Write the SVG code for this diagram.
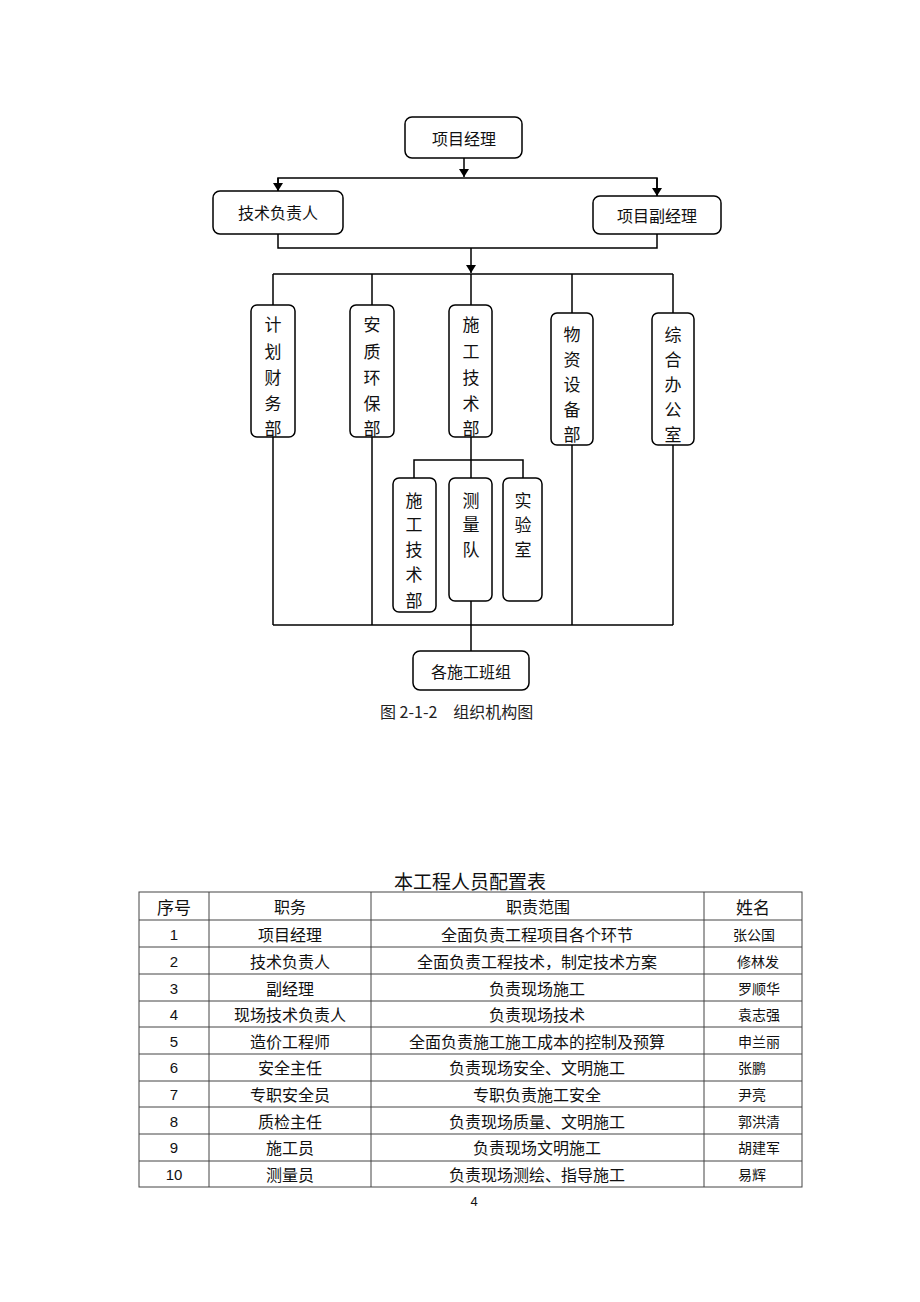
<svg xmlns="http://www.w3.org/2000/svg" width="920" height="1302" viewBox="0 0 920 1302">
<style>
.bx{fill:#fff;stroke:#000;stroke-width:1.5}
.ln{fill:none;stroke:#000;stroke-width:1.5}
.t{font-family:"Noto Sans CJK SC",sans-serif;font-size:16px;fill:#111;text-anchor:middle;dominant-baseline:central}
.v{font-family:"Noto Sans CJK SC",sans-serif;font-size:17px;fill:#111;text-anchor:middle;dominant-baseline:central}
.cap{font-family:"Noto Sans CJK SC",sans-serif;font-size:16px;fill:#222;dominant-baseline:central}
.tl{stroke:#444;stroke-width:1;fill:none}
.c{font-family:"Noto Sans CJK SC",sans-serif;font-size:16px;fill:#111;text-anchor:middle;dominant-baseline:central}
.n{font-family:"Liberation Sans",sans-serif;font-size:15px;fill:#111;text-anchor:middle;dominant-baseline:central}
.nm{font-family:"Noto Sans CJK SC",sans-serif;font-size:14px;fill:#111;dominant-baseline:central}
</style>
<defs>
<marker id="ar" markerWidth="8" markerHeight="10" refX="8" refY="5" orient="auto" markerUnits="userSpaceOnUse">
<path d="M0,0 L8,5 L0,10 Z" fill="#000"/>
</marker>
</defs>
<g id="connectors">
<line class="ln" x1="464" y1="158" x2="464" y2="177" marker-end="url(#ar)"/>
<polyline class="ln" points="278,191 278,178 657,178 657,196"/>
<line class="ln" x1="278" y1="178" x2="278" y2="191" marker-end="url(#ar)"/>
<line class="ln" x1="657" y1="178" x2="657" y2="196" marker-end="url(#ar)"/>
<polyline class="ln" points="278,234 278,248 657,248 657,234"/>
<line class="ln" x1="471" y1="248" x2="471" y2="273" marker-end="url(#ar)"/>
<line class="ln" x1="273" y1="274" x2="673" y2="274"/>
<line class="ln" x1="273" y1="274" x2="273" y2="305"/>
<line class="ln" x1="372" y1="274" x2="372" y2="305"/>
<line class="ln" x1="471" y1="274" x2="471" y2="305"/>
<line class="ln" x1="572" y1="274" x2="572" y2="313"/>
<line class="ln" x1="673" y1="274" x2="673" y2="313"/>
<line class="ln" x1="273" y1="437" x2="273" y2="625"/>
<line class="ln" x1="372" y1="437" x2="372" y2="625"/>
<line class="ln" x1="572" y1="445" x2="572" y2="625"/>
<line class="ln" x1="673" y1="445" x2="673" y2="625"/>
<line class="ln" x1="471" y1="437" x2="471" y2="478"/>
<polyline class="ln" points="414,478 414,460 523,460 523,478"/>
<line class="ln" x1="273" y1="625" x2="673" y2="625"/>
<line class="ln" x1="471" y1="601" x2="471" y2="651"/>
</g>
<g id="n-pm"><rect class="bx" x="405" y="117" width="117" height="41" rx="7"/><text class="t" x="464" y="138">项目经理</text></g>
<g id="n-tech"><rect class="bx" x="213" y="191" width="130" height="43" rx="7"/><text class="t" x="278" y="212">技术负责人</text></g>
<g id="n-dpm"><rect class="bx" x="593" y="196" width="128" height="38" rx="7"/><text class="t" x="657" y="215">项目副经理</text></g>
<g id="n-jh"><rect class="bx" x="251" y="305" width="44" height="132" rx="6"/>
<text class="v" x="273" y="323">计</text><text class="v" x="273" y="350">划</text><text class="v" x="273" y="376">财</text><text class="v" x="273" y="402">务</text><text class="v" x="273" y="427">部</text></g>
<g id="n-az"><rect class="bx" x="350" y="305" width="44" height="132" rx="6"/>
<text class="v" x="372" y="323">安</text><text class="v" x="372" y="350">质</text><text class="v" x="372" y="376">环</text><text class="v" x="372" y="402">保</text><text class="v" x="372" y="427">部</text></g>
<g id="n-sg"><rect class="bx" x="449" y="305" width="43" height="132" rx="6"/>
<text class="v" x="471" y="323">施</text><text class="v" x="471" y="350">工</text><text class="v" x="471" y="376">技</text><text class="v" x="471" y="402">术</text><text class="v" x="471" y="427">部</text></g>
<g id="n-wz"><rect class="bx" x="551" y="313" width="42" height="132" rx="6"/>
<text class="v" x="572" y="333">物</text><text class="v" x="572" y="358">资</text><text class="v" x="572" y="383">设</text><text class="v" x="572" y="408">备</text><text class="v" x="572" y="433">部</text></g>
<g id="n-zh"><rect class="bx" x="652" y="313" width="42" height="132" rx="6"/>
<text class="v" x="673" y="333">综</text><text class="v" x="673" y="358">合</text><text class="v" x="673" y="383">办</text><text class="v" x="673" y="408">公</text><text class="v" x="673" y="433">室</text></g>
<g id="n-sg2"><rect class="bx" x="393" y="478" width="43" height="134" rx="6"/>
<text class="v" x="414" y="499">施</text><text class="v" x="414" y="523">工</text><text class="v" x="414" y="548">技</text><text class="v" x="414" y="573">术</text><text class="v" x="414" y="599">部</text></g>
<g id="n-cl"><rect class="bx" x="449" y="478" width="43" height="123" rx="6"/>
<text class="v" x="471" y="499">测</text><text class="v" x="471" y="523">量</text><text class="v" x="471" y="548">队</text></g>
<g id="n-sy"><rect class="bx" x="503" y="478" width="39" height="123" rx="6"/>
<text class="v" x="523" y="499">实</text><text class="v" x="523" y="523">验</text><text class="v" x="523" y="548">室</text></g>
<g id="n-bz"><rect class="bx" x="413" y="651" width="116" height="39" rx="7"/><text class="t" x="471" y="671">各施工班组</text></g>
<text class="cap" x="380" y="711">图 2-1-2　组织机构图</text>

<g id="table">
<text class="c" x="470" y="880" style="font-size:19px">本工程人员配置表</text>
<rect class="tl" x="139" y="892" width="663" height="295"/>
<line class="tl" x1="209" y1="892" x2="209" y2="1187"/>
<line class="tl" x1="371" y1="892" x2="371" y2="1187"/>
<line class="tl" x1="704" y1="892" x2="704" y2="1187"/>
<line class="tl" x1="139" y1="920" x2="802" y2="920"/>
<line class="tl" x1="139" y1="947" x2="802" y2="947"/>
<line class="tl" x1="139" y1="974" x2="802" y2="974"/>
<line class="tl" x1="139" y1="1001" x2="802" y2="1001"/>
<line class="tl" x1="139" y1="1027" x2="802" y2="1027"/>
<line class="tl" x1="139" y1="1054" x2="802" y2="1054"/>
<line class="tl" x1="139" y1="1081" x2="802" y2="1081"/>
<line class="tl" x1="139" y1="1107" x2="802" y2="1107"/>
<line class="tl" x1="139" y1="1134" x2="802" y2="1134"/>
<line class="tl" x1="139" y1="1161" x2="802" y2="1161"/>
<text class="c" x="174" y="906" style="font-size:17px">序号</text>
<text class="c" x="290" y="906">职务</text>
<text class="c" x="538" y="906">职责范围</text>
<text class="c" x="753" y="906" style="font-size:17px">姓名</text>
<text class="n" x="174" y="934">1</text><text class="c" x="290" y="934">项目经理</text><text class="c" x="537" y="934">全面负责工程项目各个环节</text><text class="nm" x="733" y="934">张公国</text>
<text class="n" x="174" y="961">2</text><text class="c" x="290" y="961">技术负责人</text><text class="c" x="537" y="961">全面负责工程技术，制定技术方案</text><text class="nm" x="737" y="961">修林发</text>
<text class="n" x="174" y="988">3</text><text class="c" x="290" y="988">副经理</text><text class="c" x="537" y="988">负责现场施工</text><text class="nm" x="738" y="988">罗顺华</text>
<text class="n" x="174" y="1014">4</text><text class="c" x="290" y="1014">现场技术负责人</text><text class="c" x="537" y="1014">负责现场技术</text><text class="nm" x="738" y="1014">袁志强</text>
<text class="n" x="174" y="1041">5</text><text class="c" x="290" y="1041">造价工程师</text><text class="c" x="537" y="1041">全面负责施工施工成本的控制及预算</text><text class="nm" x="738" y="1041">申兰丽</text>
<text class="n" x="174" y="1067">6</text><text class="c" x="290" y="1067">安全主任</text><text class="c" x="537" y="1067">负责现场安全、文明施工</text><text class="nm" x="738" y="1067">张鹏</text>
<text class="n" x="174" y="1094">7</text><text class="c" x="290" y="1094">专职安全员</text><text class="c" x="537" y="1094">专职负责施工安全</text><text class="nm" x="738" y="1094">尹亮</text>
<text class="n" x="174" y="1121">8</text><text class="c" x="290" y="1121">质检主任</text><text class="c" x="537" y="1121">负责现场质量、文明施工</text><text class="nm" x="738" y="1121">郭洪清</text>
<text class="n" x="174" y="1147">9</text><text class="c" x="290" y="1147">施工员</text><text class="c" x="537" y="1147">负责现场文明施工</text><text class="nm" x="738" y="1147">胡建军</text>
<text class="n" x="174" y="1174">10</text><text class="c" x="290" y="1174">测量员</text><text class="c" x="537" y="1174">负责现场测绘、指导施工</text><text class="nm" x="738" y="1174">易辉</text>
</g>
<text class="n" x="474" y="1201" style="font-size:13px">4</text>
</svg>
